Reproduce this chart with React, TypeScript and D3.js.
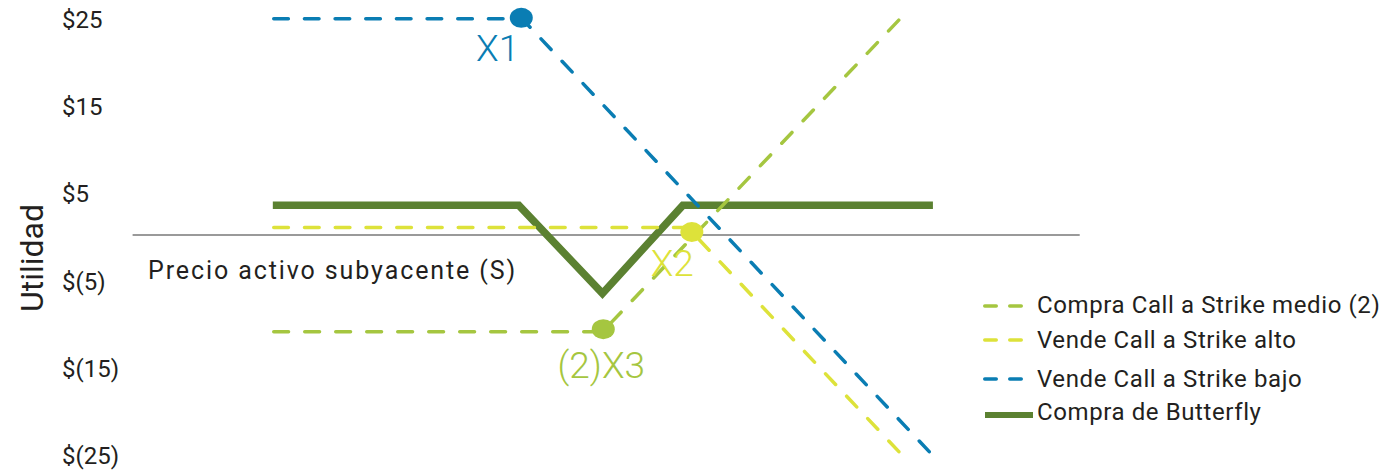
import React from "react";
import * as d3 from "d3";

// Payoff diagram of a long call butterfly spread
// Each series: [underlying price, profit]
const compraMedio: [number, number][] = [
  [20, -11.1],
  [60.3, -11.1],
  [96.6, 24.8],
];
const vendeAlto: [number, number][] = [
  [20, 0.86],
  [70.7, 0.86],
  [96.6, -25],
];
const vendeBajo: [number, number][] = [
  [20, 24.8],
  [50.5, 24.8],
  [100.3, -25],
];
const butterfly: [number, number][] = [
  [20.1, 3.4],
  [50.1, 3.4],
  [60.3, -6.7],
  [70.1, 3.4],
  [100.6, 3.4],
];

// Strike markers
const strikeNames = ["X1", "(2)X3", "X2"];
const strikePrices = [50.4, 60.4, 71.2];
const strikeProfits = [24.9, -10.8, 0.35];

const tickValues = [25, 15, 5, -5, -15, -25];
const tickLabels = ["$25", "$15", "$5", "$(5)", "$(15)", "$(25)"];

const legendLabels = [
  "Compra Call a Strike medio (2)",
  "Vende Call a Strike alto",
  "Vende Call a Strike bajo",
  "Compra de Butterfly",
];

const axisRange: [number, number] = [3, 118.5];

const C_BLUE = "#0a7db3";
const C_LIGHT = "#a5c640";
const C_YELLOW = "#dde23a";
const C_DARK = "#5b8131";
const C_TEXT = "#231f20";
const FONT = "Roboto, 'Open Sans', sans-serif";

const STROKE = 3.5;
const DASH = 18; // visible dash, caps included
const GAP = 12.5; // visible gap

export default function App() {
  const width = 1384;
  const height = 470;

  const x = d3.scaleLinear().domain([20, 100]).range([272, 928]);
  const y = d3.scaleLinear().domain([-25, 25]).range([453, 17]);

  const line = d3
    .line<[number, number]>()
    .x((d) => x(d[0]))
    .y((d) => y(d[1]));

  // stretch the dash pattern slightly so every path starts and ends on a full dash
  const dashFor = (pts: [number, number][]) => {
    let len = 0;
    for (let i = 1; i < pts.length; i++) {
      len += Math.hypot(
        x(pts[i][0]) - x(pts[i - 1][0]),
        y(pts[i][1]) - y(pts[i - 1][1])
      );
    }
    const n = Math.max(1, Math.round((len + GAP) / (DASH + GAP)));
    const k = (len + GAP) / (n * (DASH + GAP));
    const d = DASH * k;
    const g = GAP * k;
    return {
      strokeDasharray: `${d - STROKE} ${g + STROKE}`,
      strokeDashoffset: -STROKE / 2,
    };
  };

  const seriesColors = [C_LIGHT, C_YELLOW, C_BLUE];
  const markerColors = [C_BLUE, C_LIGHT, C_YELLOW];
  // label placement relative to each marker: [dx, dy, anchor]
  const labelPlace: [number, number, string][] = [
    [-2, 43, "end"],
    [-2, 49, "middle"],
    [2, 44, "end"],
  ];

  const legendRows = [306, 340, 379, 415];
  const legendText = [313, 348, 387, 420];

  return (
    <svg
      width={width}
      height={height}
      style={{ position: "absolute", left: 0, top: 0, background: "#fff" }}
      fontFamily={FONT}
    >
      {/* price axis at zero profit */}
      <line
        x1={x(axisRange[0])}
        x2={x(axisRange[1])}
        y1={y(0)}
        y2={y(0)}
        stroke="#9a9a9a"
        strokeWidth={2}
      />

      {/* y tick labels */}
      {tickValues.map((v, i) => (
        <text key={v} x={62} y={y(v) + 11} fontSize={24} fill={C_TEXT}>
          {tickLabels[i]}
        </text>
      ))}

      <text
        transform={`translate(43,258) rotate(-90)`}
        textAnchor="middle"
        fontSize={32}
        fill={C_TEXT}
      >
        Utilidad
      </text>

      <text
        x={148}
        y={279}
        fontSize={25}
        letterSpacing={1.9}
        fill={C_TEXT}
      >
        Precio activo subyacente (S)
      </text>

      {/* butterfly */}
      <path
        d={line(butterfly) || ""}
        fill="none"
        stroke={C_DARK}
        strokeWidth={7.5}
        strokeLinejoin="miter"
      />

      {/* individual legs */}
      {[compraMedio, vendeAlto, vendeBajo].map((s, i) => (
        <path
          key={i}
          d={line(s) || ""}
          fill="none"
          stroke={seriesColors[i]}
          strokeWidth={STROKE}
          strokeLinecap="round"
          {...dashFor(s)}
        />
      ))}

      {/* strike markers */}
      {strikePrices.map((p, i) => (
        <g key={strikeNames[i]}>
          <ellipse
            cx={x(p)}
            cy={y(strikeProfits[i])}
            rx={11.5}
            ry={10}
            fill={markerColors[i]}
          />
          <text
            x={x(p) + labelPlace[i][0]}
            y={y(strikeProfits[i]) + labelPlace[i][1]}
            textAnchor={labelPlace[i][2] as any}
            fontSize={37}
            fontWeight={300}
            fill={markerColors[i]}
          >
            {strikeNames[i]}
          </text>
        </g>
      ))}

      {/* legend */}
      {legendLabels.map((lab, i) => (
        <g key={lab}>
          {i < 3 ? (
            <line
              x1={984.75}
              x2={1021.25}
              y1={legendRows[i]}
              y2={legendRows[i]}
              stroke={seriesColors[i]}
              strokeWidth={3.5}
              strokeLinecap="round"
              strokeDasharray="11.5 13.5"
            />
          ) : (
            <line
              x1={985}
              x2={1033}
              y1={legendRows[i]}
              y2={legendRows[i]}
              stroke={C_DARK}
              strokeWidth={6}
            />
          )}
          <text
            x={1037}
            y={legendText[i]}
            fontSize={24}
            letterSpacing={0.6}
            fill={C_TEXT}
          >
            {lab}
          </text>
        </g>
      ))}
    </svg>
  );
}
